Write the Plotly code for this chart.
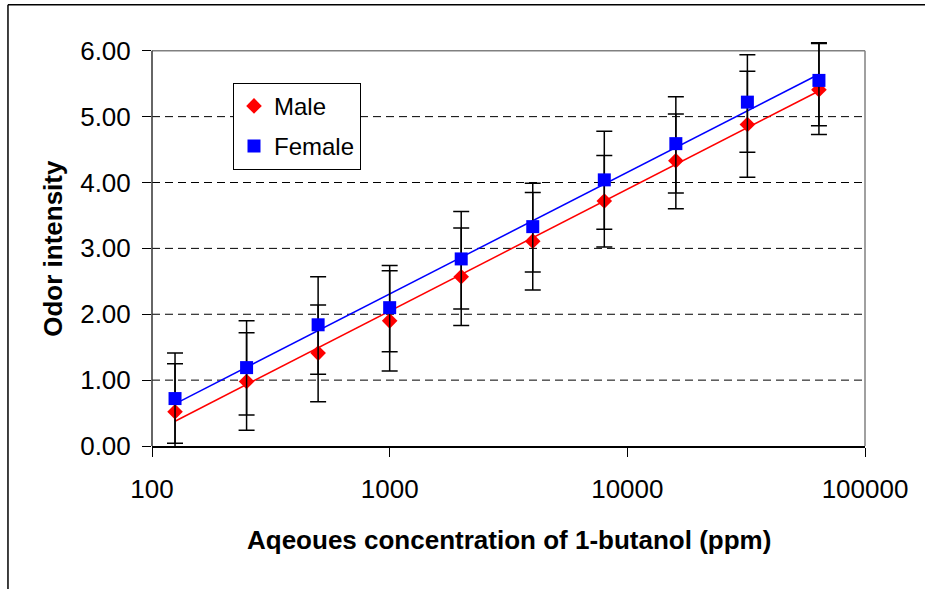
import numpy as np
import plotly.graph_objects as go

# ---- data ----
concentration = [125, 250, 500, 1000, 2000, 4000, 8000, 16000, 32000, 64000]
male_mean = [0.52, 0.98, 1.41, 1.90, 2.57, 3.11, 3.72, 4.33, 4.88, 5.41]
male_err_up = [0.73, 0.74, 0.73, 0.76, 0.74, 0.74, 0.69, 0.71, 0.81, 0.70]
male_err_down = [0.73, 0.74, 0.74, 0.76, 0.74, 0.74, 0.70, 0.73, 0.80, 0.68]
female_mean = [0.72, 1.19, 1.84, 2.10, 2.84, 3.33, 4.04, 4.59, 5.22, 5.55]
female_err_up = [0.69, 0.71, 0.73, 0.64, 0.72, 0.66, 0.74, 0.71, 0.72, 0.57]
female_err_down = [0.68, 0.72, 0.75, 0.67, 0.76, 0.69, 0.75, 0.75, 0.76, 0.69]
x_tickvals = [100, 1000, 10000, 100000]
x_ticktext = ["100", "1000", "10000", "100000"]
y_tickvals = [0, 1, 2, 3, 4, 5, 6]
y_ticktext = ["0.00", "1.00", "2.00", "3.00", "4.00", "5.00", "6.00"]
grid_values = [1, 2, 3, 4, 5]
y_max = 6

FONT = "Liberation Sans, Arial, sans-serif"

# linear trend lines on log10(x), as Excel's logarithmic trendline
lx = np.log10(concentration)
m_fit = np.polyfit(lx, male_mean, 1)
f_fit = np.polyfit(lx, female_mean, 1)
male_trend = np.polyval(m_fit, lx)
female_trend = np.polyval(f_fit, lx)

fig = go.Figure()

fig.add_trace(go.Scatter(
    x=concentration, y=male_trend, mode="lines",
    line=dict(color="#FF0000", width=1.5), showlegend=False, hoverinfo="skip"))
fig.add_trace(go.Scatter(
    x=concentration, y=female_trend, mode="lines",
    line=dict(color="#0000FF", width=1.5), showlegend=False, hoverinfo="skip"))

fig.add_trace(go.Scatter(
    x=concentration, y=male_mean, mode="markers", name="Male",
    legendgroup="m",
    marker=dict(symbol="diamond", size=12, color="#FF0000"),
    error_y=dict(type="data", symmetric=False, array=male_err_up,
                 arrayminus=male_err_down, color="black", thickness=1.5, width=8),
    cliponaxis=False))
fig.add_trace(go.Scatter(
    x=concentration, y=female_mean, mode="markers", name="Female",
    legendgroup="f",
    marker=dict(symbol="square", size=13, color="#0000FF"),
    error_y=dict(type="data", symmetric=False, array=female_err_up,
                 arrayminus=female_err_down, color="black", thickness=1.5, width=8),
    cliponaxis=False))

shapes = []
for g in grid_values:
    shapes.append(dict(type="line", xref="paper", yref="y", x0=0, x1=1, y0=g, y1=g,
                       line=dict(color="black", width=1, dash="8px,5px"), layer="below"))
# plot area border (top, right) in grey
shapes.append(dict(type="line", xref="paper", yref="y", x0=0, x1=1, y0=y_max, y1=y_max,
                   line=dict(color="#808080", width=1.5), layer="below"))
shapes.append(dict(type="line", xref="paper", yref="y", x0=1, x1=1, y0=0, y1=y_max,
                   line=dict(color="#808080", width=1.5), layer="below"))
# y axis line
shapes.append(dict(type="line", xref="paper", yref="y", x0=0, x1=0, y0=0, y1=y_max,
                   line=dict(color="#333333", width=1.5), layer="below"))
# outer chart frame (top and left)
shapes.append(dict(type="line", xref="paper", yref="paper", x0=-0.202, x1=1.09,
                   y0=1.0633, y1=1.0633, line=dict(color="black", width=1.5)))
shapes.append(dict(type="line", xref="paper", yref="paper", x0=-0.202, x1=-0.202,
                   y0=1.0633, y1=-0.36, line=dict(color="black", width=1.5)))

fig.update_layout(
    width=925, height=589,
    margin=dict(l=152, r=60, t=31.25, b=143),
    paper_bgcolor="white", plot_bgcolor="white",
    font=dict(family=FONT, color="black", size=26),
    shapes=shapes,
    legend=dict(x=0.1136, y=0.8752, xanchor="left", yanchor="top",
                bgcolor="white", bordercolor="black", borderwidth=1,
                font=dict(size=24, family=FONT), traceorder="grouped",
                tracegroupgap=6),
    annotations=[
        dict(text="<b>Aqeoues concentration of 1-butanol (ppm)</b>", xref="paper", yref="paper",
             x=0.5, y=-0.2266, xanchor="center", yanchor="middle", showarrow=False,
             font=dict(size=26, family=FONT)),
        dict(text="<b>Odor intensity</b>", xref="paper", yref="paper",
             x=-0.139, y=0.4774, xanchor="center", yanchor="middle", showarrow=False,
             textangle=-90, font=dict(size=26, family=FONT)),
    ],
)

fig.update_xaxes(type="log", range=[2, 5], tickvals=x_tickvals, ticktext=x_ticktext,
                 showgrid=False, zeroline=False, showline=True, linecolor="black",
                 linewidth=1.5, ticks="outside", ticklen=9, tickcolor="black",
                 tickwidth=1, ticklabelstandoff=10, tickfont=dict(size=26))
fig.update_yaxes(range=[0, 6.3], tickvals=y_tickvals, ticktext=y_ticktext,
                 showgrid=False, zeroline=False, showline=False,
                 ticks="outside", ticklen=9, tickcolor="black",
                 tickwidth=1, ticklabelstandoff=6, tickfont=dict(size=26))

fig.write_html("out.html", config={"displayModeBar": False},
               post_script="document.body.style.margin='0px';")
